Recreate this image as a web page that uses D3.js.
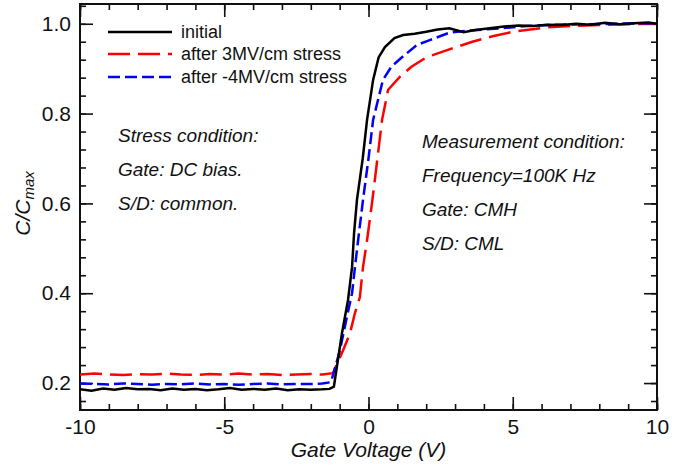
<!DOCTYPE html>
<html>
<head>
<meta charset="utf-8">
<script src="https://cdn.jsdelivr.net/npm/d3@7"></script>
<style>
    body { margin: 0; background: #fff; }
    svg text { font-family: "Liberation Sans", Arial, sans-serif; fill: #111; }
</style>
</head>
<body>
<svg id="chart" width="686" height="465"></svg>
<script>
// values: gate voltage (V) and C/Cmax
var blackV = [-10, -9.6, -9.2, -8.8, -8.4, -8.0, -7.6, -7.2, -6.8, -6.4, -6.0, -5.6, -5.2, -4.8, -4.4, -4.0, -3.6, -3.2, -2.8, -2.4, -2.0, -1.6,
    -1.35, -1.2, -0.92, -0.71, -0.57, -0.5, -0.4, -0.2, -0.05, 0.16, 0.35, 0.57, 0.9, 1.2, 1.6, 2.0, 2.4, 2.8,
    3.3, 3.7, 4.2, 4.7, 5.2, 5.7, 6.2, 6.7, 7.2, 7.7, 8.2, 8.7, 9.2, 9.7, 10];
var blackC = [0.186, 0.183, 0.188, 0.185, 0.189, 0.186, 0.187, 0.184, 0.188, 0.185, 0.187, 0.184, 0.186, 0.189, 0.185, 0.187, 0.185, 0.188, 0.184, 0.186, 0.185, 0.186,
    0.187, 0.192, 0.311, 0.385, 0.458, 0.534, 0.608, 0.700, 0.786, 0.875, 0.925, 0.948, 0.968, 0.975, 0.978, 0.982, 0.987, 0.990,
    0.981, 0.986, 0.990, 0.994, 0.996, 0.995, 0.998, 0.997, 1.000, 0.998, 1.002, 0.999, 1.001, 1.003, 1.000];

var redV = [-10, -9.5, -9, -8.5, -8, -7.5, -7, -6.5, -6, -5.5, -5, -4.5, -4, -3.5, -3, -2.5, -2, -1.6, -1.23,
    -0.88, -0.64, -0.47, -0.3, -0.19, -0.05, 0.12, 0.3, 0.47, 0.68, 1.1, 1.5, 2.0, 2.8, 3.6, 4.3, 5.0, 6.2, 7.0, 8.0, 9.0, 10];
var redC = [0.219, 0.221, 0.219, 0.218, 0.220, 0.219, 0.221, 0.219, 0.218, 0.220, 0.219, 0.221, 0.219, 0.220, 0.218, 0.219, 0.220, 0.219, 0.222,
    0.273, 0.311, 0.356, 0.391, 0.458, 0.518, 0.600, 0.695, 0.786, 0.853, 0.883, 0.905, 0.925, 0.943, 0.960, 0.972, 0.982, 0.992, 0.995, 0.997, 0.999, 1.000];

var blueV = [-10, -9.5, -9, -8.5, -8, -7.5, -7, -6.5, -6, -5.5, -5, -4.5, -4, -3.5, -3, -2.5, -2, -1.6, -1.3,
    -0.99, -0.75, -0.57, -0.47, -0.36, -0.19, 0, 0.16, 0.5, 0.8, 1.1, 1.68, 2.1, 2.8, 3.5, 4.6, 5.5, 6.5, 7.5, 8.5, 9.5, 10];
var blueC = [0.199, 0.198, 0.197, 0.199, 0.198, 0.196, 0.198, 0.197, 0.199, 0.197, 0.198, 0.196, 0.198, 0.199, 0.197, 0.198, 0.198, 0.199, 0.202,
    0.273, 0.347, 0.400, 0.458, 0.518, 0.608, 0.700, 0.786, 0.875, 0.905, 0.922, 0.953, 0.963, 0.980, 0.985, 0.990, 0.995, 0.998, 0.999, 1.000, 1.001, 1.000];

var seriesNames = ["initial", "after 3MV/cm stress", "after -4MV/cm stress"];
var xTicks = [-10, -5, 0, 5, 10];
var yTicks = [0.2, 0.4, 0.6, 0.8, 1.0];
var stressNotes = ["Stress condition:", "Gate: DC bias.", "S/D: common."];
var measureNotes = ["Measurement condition:", "Frequency=100K Hz", "Gate: CMH", "S/D: CML"];

// plot box (window.top is reserved, so prefixed names)
var pL = 80, pR = 657, pT = 4, pB = 410;
var svg = d3.select("#chart");

var x = d3.scaleLinear().domain([-10, 10]).range([pL, pR]);
var y = d3.scaleLinear().domain([0.14, 1.044]).range([pB, pT]);

// minor + major ticks pointing inward, on all four sides
var xMinor = d3.range(-10, 10.01, 1);
var yMinor = d3.range(0.16, 1.041, 0.04);

function tickAxes(axisFn, scale, majors, minors, pos, fmt) {
    var g = svg.append("g").attr("transform", pos);
    g.append("g").call(axisFn(scale).tickValues(minors).tickSize(-6).tickFormat(""));
    var maj = g.append("g").call(axisFn(scale).tickValues(majors).tickSize(-13)
        .tickPadding(9).tickFormat(fmt || ""));
    g.selectAll(".domain").remove();
    g.selectAll("line").attr("stroke", "#111").attr("stroke-width", 1.6);
    maj.selectAll("text").style("font-size", "21px");
    return maj;
}

tickAxes(d3.axisBottom, x, xTicks, xMinor, "translate(0," + pB + ")", function (d) { return String(d); });
tickAxes(d3.axisTop, x, xTicks, xMinor, "translate(0," + pT + ")", null);
tickAxes(d3.axisLeft, y, yTicks, yMinor, "translate(" + pL + ",0)", function (d) { return d.toFixed(1); });
tickAxes(d3.axisRight, y, yTicks, yMinor, "translate(" + pR + ",0)", null);

svg.append("rect").attr("x", pL).attr("y", pT).attr("width", pR - pL).attr("height", pB - pT)
    .attr("fill", "none").attr("stroke", "#111").attr("stroke-width", 2);

// curves
svg.append("clipPath").attr("id", "clip").append("rect")
    .attr("x", pL).attr("y", pT).attr("width", pR - pL).attr("height", pB - pT);

var line = d3.line().x(function (d) { return x(d[0]); }).y(function (d) { return y(d[1]); });
var series = [
    { v: blackV, c: blackC, color: "#000", dash: null },
    { v: redV, c: redC, color: "#f00", dash: "22,8" },
    { v: blueV, c: blueC, color: "#00f", dash: "12,5" }
];
// red first, then blue, black on top
[1, 2, 0].forEach(function (i) {
    var s = series[i];
    svg.append("path")
        .datum(d3.zip(s.v, s.c))
        .attr("clip-path", "url(#clip)")
        .attr("fill", "none")
        .attr("stroke", s.color)
        .attr("stroke-width", 2.5)
        .attr("stroke-dasharray", s.dash)
        .attr("d", line);
});

// legend
var legY = [32, 54, 77];
series.forEach(function (s, i) {
    svg.append("line").attr("x1", 108).attr("x2", 172).attr("y1", legY[i]).attr("y2", legY[i])
        .attr("stroke", s.color).attr("stroke-width", 2.5).attr("stroke-dasharray", s.dash);
    svg.append("text").attr("x", 181).attr("y", legY[i] + 6).style("font-size", "18px").text(seriesNames[i]);
});

// notes
stressNotes.forEach(function (t, i) {
    svg.append("text").attr("x", 118).attr("y", 142 + i * 34).style("font-size", "19px")
        .style("font-style", "italic").text(t);
});
measureNotes.forEach(function (t, i) {
    svg.append("text").attr("x", 422).attr("y", 148 + i * 34).style("font-size", "19px")
        .style("font-style", "italic").text(t);
});

// axis titles
svg.append("text").attr("x", (pL + pR) / 2).attr("y", 457).attr("text-anchor", "middle")
    .style("font-size", "21px").style("font-style", "italic").text("Gate Voltage (V)");

var yt = svg.append("text").attr("transform", "translate(30," + y(0.6) + ") rotate(-90)")
    .attr("text-anchor", "middle").style("font-size", "21px").style("font-style", "italic");
yt.append("tspan").text("C/C");
yt.append("tspan").attr("dy", 4).style("font-size", "15px").text("max");
</script>
</body>
</html>
